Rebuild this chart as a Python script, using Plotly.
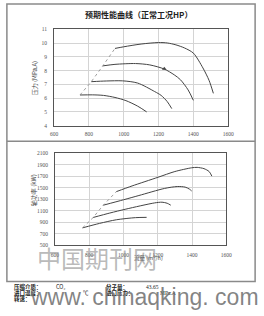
import plotly.graph_objects as go

W, H = 264, 316

# ---- data: top chart (pressure, MPa.A) ----
p1_x = [950, 1000, 1100, 1200, 1250, 1300, 1350, 1400, 1455, 1490, 1515]
p1_y = [9.62, 9.74, 9.94, 10.05, 10.02, 9.88, 9.65, 9.28, 8.2, 7.3, 6.35]
p2_x = [880, 950, 1068, 1150, 1233, 1290, 1326, 1370, 1400]
p2_y = [8.35, 8.46, 8.52, 8.42, 8.12, 7.7, 7.34, 6.6, 5.84]
p3_x = [814, 900, 994, 1080, 1178, 1215, 1250, 1276]
p3_y = [7.2, 7.25, 7.26, 7.1, 6.48, 6.2, 5.75, 5.24]
p4_x = [749, 820, 884, 950, 1013, 1080, 1132]
p4_y = [6.23, 6.24, 6.2, 6.05, 5.82, 5.42, 5.0]
p_surge_x = [749, 814, 880, 950]
p_surge_y = [6.23, 7.2, 8.35, 9.62]
p_mark_x = [1233]
p_mark_y = [8.14]

# ---- data: bottom chart (shaft power, kW) ----
k1_x = [958, 1050, 1201, 1300, 1398, 1430, 1470, 1500, 1516]
k1_y = [1431, 1530, 1680, 1780, 1845, 1852, 1830, 1780, 1700]
k2_x = [882, 1000, 1090, 1240, 1314, 1360, 1385, 1398]
k2_y = [1196, 1290, 1364, 1487, 1520, 1510, 1475, 1443]
k3_x = [823, 920, 1014, 1182, 1225, 1255, 1276]
k3_y = [983, 1060, 1128, 1236, 1248, 1230, 1196]
k4_x = [761, 860, 958, 1070, 1135]
k4_y = [803, 880, 943, 980, 985]
k_surge_x = [761, 823, 882, 958]
k_surge_y = [803, 983, 1196, 1431]

x_ticks = [600, 800, 1000, 1200, 1400, 1600]
p_ticks = [4, 5, 6, 7, 8, 9, 10, 11]
k_ticks = [500, 700, 900, 1100, 1300, 1500, 1700, 1900, 2100]

CURVE = dict(color="#444444", width=1.0, shape="spline", smoothing=0.8)
SURGE = dict(color="#888888", width=0.8, dash="dot")

fig = go.Figure()
for xs, ys in [(p1_x, p1_y), (p2_x, p2_y), (p3_x, p3_y), (p4_x, p4_y)]:
    fig.add_trace(go.Scatter(x=xs, y=ys, mode="lines", line=CURVE, xaxis="x", yaxis="y"))
fig.add_trace(go.Scatter(x=p_surge_x, y=p_surge_y, mode="lines", line=SURGE, xaxis="x", yaxis="y"))
fig.add_trace(go.Scatter(x=p_mark_x, y=p_mark_y, mode="markers",
                         marker=dict(symbol="triangle-up", size=4, color="#444"),
                         xaxis="x", yaxis="y"))
for xs, ys in [(k1_x, k1_y), (k2_x, k2_y), (k3_x, k3_y), (k4_x, k4_y)]:
    fig.add_trace(go.Scatter(x=xs, y=ys, mode="lines", line=CURVE, xaxis="x2", yaxis="y2"))
fig.add_trace(go.Scatter(x=k_surge_x, y=k_surge_y, mode="lines", line=SURGE, xaxis="x2", yaxis="y2"))


def px(x):
    return x / W


def py(y):
    return 1 - y / H


TICKF = dict(family="Liberation Serif", size=5.5, color="#555")
axis_common = dict(showgrid=True, gridcolor="#d4d4d4", gridwidth=1, showline=True,
                   linecolor="#555", linewidth=1, mirror=True, ticks="",
                   tickfont=TICKF, zeroline=False, fixedrange=True)

fig.update_layout(
    width=W, height=H, autosize=False,
    margin=dict(l=0, r=0, t=0, b=0),
    paper_bgcolor="white", plot_bgcolor="white",
    showlegend=False,
    xaxis=dict(domain=[px(52), px(233)], range=[600, 1600], tickvals=x_ticks,
               anchor="y", ticklabelstandoff=3, **axis_common),
    yaxis=dict(domain=[py(125), py(27)], range=[4, 11], tickvals=p_ticks,
               anchor="x", ticklabelstandoff=5, **axis_common),
    xaxis2=dict(domain=[px(53), px(231)], range=[600, 1600], tickvals=x_ticks,
                anchor="y2", ticklabelstandoff=4, **axis_common),
    yaxis2=dict(domain=[py(247), py(153)], range=[500, 2100], tickvals=k_ticks,
                anchor="x2", ticklabelstandoff=5, **axis_common),
)

FRAME = "#8a8a8a"
fig.add_shape(type="rect", xref="paper", yref="paper", x0=px(3), x1=px(261), y0=py(284), y1=py(1),
              line=dict(color=FRAME, width=1.5))
fig.add_shape(type="line", xref="paper", yref="paper", x0=px(3), x1=px(261), y0=py(141), y1=py(141),
              line=dict(color=FRAME, width=1.5))

CJK = "Noto Sans CJK SC"


def ann(text, x, y, size, color="#222", angle=0, xanchor="center", bold=False, family=CJK):
    fig.add_annotation(text=f"<b>{text}</b>" if bold else text, x=px(x), y=py(y),
                       xref="paper", yref="paper", showarrow=False, textangle=angle,
                       xanchor=xanchor, yanchor="middle",
                       font=dict(family=family, size=size, color=color))


ann("预期性能曲线（正常工况HP）", 140, 12, 8, bold=True)
ann("压力 (MPa.A)", 32, 77, 6, color="#444", angle=-90)
ann("轴功率 (kW)", 31, 191, 6, color="#444", angle=-90)
ann("流量 (m³/h)", 150, 260, 5.5, color="#444")

# watermarks
ann("中国期刊网", 97, 259, 24, color="rgba(140,140,140,0.6)")

# parameter text
ann("压缩介质：", 8, 290, 5.5, xanchor="left", bold=True)
ann("CO₂", 52, 290, 5.5, xanchor="left")
ann("分子量：", 104, 290, 5.5, xanchor="left", bold=True)
ann("43.65", 145, 290, 5.5, xanchor="left", family="Liberation Serif")
ann("进口温度：", 8, 296, 5.5, xanchor="left", bold=True)
ann("℃", 80, 296, 5.5, xanchor="left")
ann("进口压力：", 104, 296, 5.5, xanchor="left", bold=True)
ann("MPa.A", 160, 296, 5.5, xanchor="left", family="Liberation Serif")
ann("转速：", 8, 302, 5.5, xanchor="left", bold=True)

ann("www. chinaqking. com", 146, 300, 23, color="rgba(110,110,110,0.85)", family="Liberation Sans")

fig.write_html("out.html", config={"displayModeBar": False})
